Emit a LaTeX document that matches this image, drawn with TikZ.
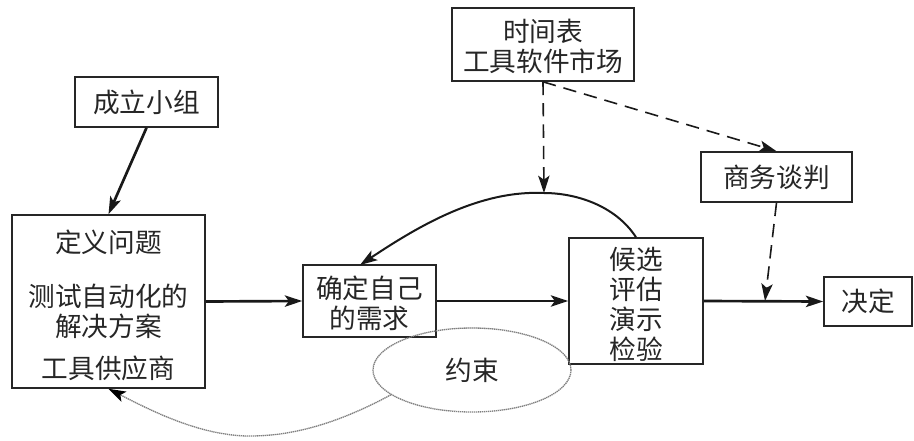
\documentclass[tikz,border=0pt]{standalone}
\usepackage{fontspec}
\newfontfamily\cjk{Noto Sans CJK SC}
\usetikzlibrary{shapes.geometric,arrows.meta}
\newcommand{\toppad}[1]{\rule{0pt}{#1pt}}
\tikzset{
 box/.style={draw=black!85,line width=1.2pt,align=center,inner sep=0pt,text=black!85,font=\cjk\fontsize{20}{22.5}\selectfont},
 bw/.style={minimum width=#1*0.75pt},
 bh/.style={minimum height=#1*0.75pt},
 mainarrow/.style={draw=black!90,line width=2pt,-{Stealth[length=13pt,width=8.5pt,inset=3pt]}},
 curvearrow/.style={draw=black!90,line width=1.5pt,-{Stealth[length=13pt,width=8.5pt,inset=3pt]}},
 dasharrow/.style={draw=black!90,line width=1.2pt,dash pattern=on 10pt off 6pt,-{Stealth[length=13pt,width=8.5pt,inset=3pt]}},
 dotarrow/.style={draw=black!50,line width=1pt,dash pattern=on 1pt off 0.5pt,-{Stealth[length=13pt,width=8.5pt,inset=3pt,black]}},
}
\begin{document}
\begin{tikzpicture}[x=0.75pt,y=-0.75pt]
\useasboundingbox (0,0) rectangle (914,440);
\fill[white] (0,0) rectangle (914,440);
\node[box,bw=143,bh=50] (team) at (146.5,102) {成立小组};
\node[box,bw=182,bh=73] (sched) at (543,44.5) {\toppad{20}时间表\\工具软件市场};
\node[box,bw=151,bh=50] (nego) at (776.5,177) {商务谈判};
\node[box,bw=193,bh=173] (define) at (108.5,301.5) {\toppad{22}定义问题\\[18pt]测试自动化的\\解决方案\\[9pt]工具供应商};
\node[box,bw=133,bh=72] (req) at (369.5,301) {\toppad{20}确定自己\\的需求};
\node[box,bw=134,bh=126] (cand) at (636,301) {\toppad{22}候选\\评估\\演示\\检验};
\node[box,bw=88,bh=49] (decide) at (868,301.5) {决定};
\node[ellipse,draw=black!50,line width=1pt,dash pattern=on 1pt off 0.5pt,minimum width=198*0.75pt,minimum height=84*0.75pt,inner sep=0pt,text=black!85,font=\cjk\fontsize{20}{22.5}\selectfont] (limit) at (472,370) {约束};
\coordinate (peak) at (544,193);
\coordinate (join) at (765,301);
\coordinate (reqtop) at (360,265);
\coordinate (dotend) at (250,436);
\draw[mainarrow] (team.south) -- (define.north);
\draw[mainarrow] (define.east) -- (req.west);
\draw[mainarrow] (req.east) -- (cand.west);
\draw[mainarrow] (cand.east) -- (decide.west);
\draw[curvearrow] (cand.north) .. controls (615,205) and (575,193) .. (peak) .. controls (480,190) and (420,225) .. (reqtop);
\draw[dasharrow] (sched.south) -- (peak);
\draw[dasharrow] (sched.south) -- (nego.north);
\draw[dasharrow] (nego.south) -- (join);
\draw[dotarrow] (limit.197.6) .. controls (335,425) and (290,436) .. (dotend) .. controls (200,436) and (150,410) .. (define.south);
\end{tikzpicture}
\end{document}
